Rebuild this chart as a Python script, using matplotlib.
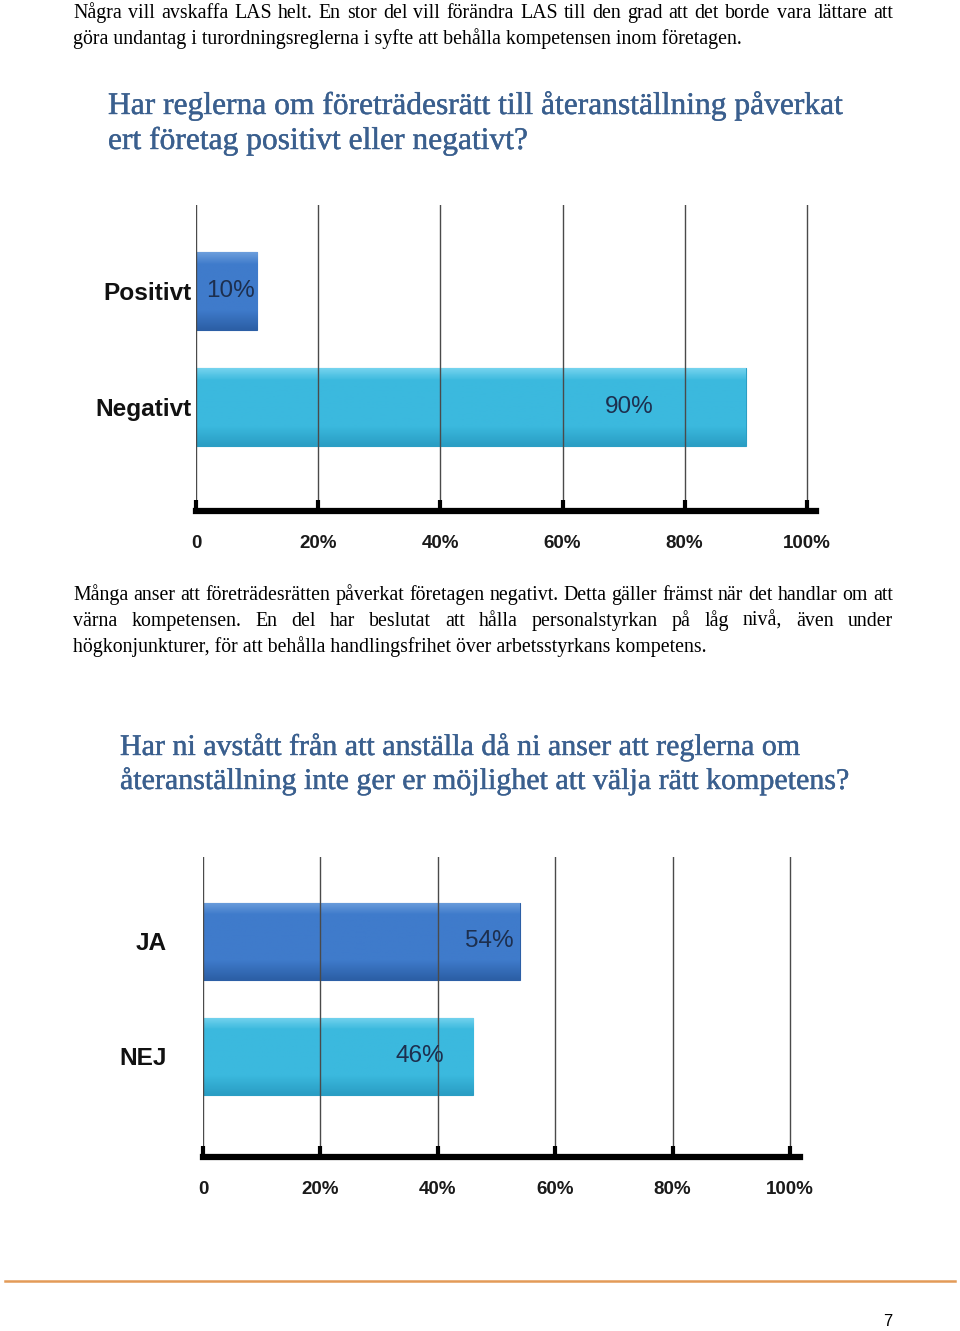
"""
Page 7 of the LAS survey report: two horizontal bar charts with body text.
Rebuilt in matplotlib at 960x1331 px.
"""

import matplotlib

matplotlib.use("Agg")
import matplotlib.pyplot as plt
import matplotlib.patheffects as pe
import numpy as np
from matplotlib.colors import LinearSegmentedColormap
from matplotlib.lines import Line2D

W, H = 960, 1331

# --- data -------------------------------------------------------------
q1_title = [
    "Har reglerna om företrädesrätt till återanställning påverkat",
    "ert företag positivt eller negativt?",
]
q1_categories = ["Positivt", "Negativt"]
q1_values = [10, 90]

q2_title = [
    "Har ni avstått från att anställa då ni anser att reglerna om",
    "återanställning inte ger er möjlighet att välja rätt kompetens?",
]
q2_categories = ["JA", "NEJ"]
q2_values = [54, 46]

tick_values = [0, 20, 40, 60, 80, 100]
tick_labels = ["0", "20%", "40%", "60%", "80%", "100%"]

para1 = [
    "Några vill avskaffa LAS helt. En stor del vill förändra LAS till den grad att det borde vara lättare att",
    "göra undantag i turordningsreglerna i syfte att behålla kompetensen inom företagen.",
]
para2 = [
    "Många anser att företrädesrätten påverkat företagen negativt. Detta gäller främst när det handlar om att",
    "värna kompetensen. En del har beslutat att hålla personalstyrkan på låg nivå, även under",
    "högkonjunkturer, för att behålla handlingsfrihet över arbetsstyrkans kompetens.",
]
page_number = "7"

# --- styling ----------------------------------------------------------
SERIF = "Liberation Serif"
SANS = "Liberation Sans"
TITLE_COLOR = "#3a5f8e"
TITLE_FX = [pe.withStroke(linewidth=0.3, foreground=TITLE_COLOR)]
BAR_SHADES = [
    ("#2c5fa6", "#3f7bcb", "#6b9ddc"),  # dark blue
    ("#2a9ec4", "#3bb9de", "#74d3ee"),  # cyan
]

fig = plt.figure(figsize=(W / 100, H / 100), dpi=100)
renderer = fig.canvas.get_renderer()


def fy(y):
    return 1 - y / H


def text_width(s, **kw):
    t = fig.text(0, 0, s, **kw)
    w = t.get_window_extent(renderer).width
    t.remove()
    return w


def fit_size(s, target_px, **kw):
    return 10 * target_px / text_width(s, fontsize=10, **kw)


def put_line(s, x0, y, size, x1=None, **kw):
    # y is the baseline in page pixels
    if x1 is None:
        fig.text(x0 / W, fy(y), s, fontsize=size, ha="left", va="baseline", **kw)
        return
    # justified line: spread the words between x0 and x1
    words = s.split()
    widths = [text_width(w, fontsize=size, **kw) for w in words]
    gap = (x1 - x0 - sum(widths)) / (len(words) - 1)
    x = x0
    for word, w in zip(words, widths):
        fig.text(x / W, fy(y), word, fontsize=size, ha="left", va="baseline", **kw)
        x += w + gap


def shade_bar(ax, bar, shades):
    x0, y0 = bar.get_x(), bar.get_y()
    w, h = bar.get_width(), bar.get_height()
    dark, base, light = shades
    cmap = LinearSegmentedColormap.from_list(
        "bar", [(0, dark), (0.25, base), (0.85, base), (1, light)]
    )
    grad = np.linspace(0, 1, 64).reshape(-1, 1)
    im = ax.imshow(grad, extent=(x0, x0 + w, y0, y0 + h), origin="lower",
                   cmap=cmap, aspect="auto", zorder=1.2)
    im.set_clip_path(bar)


def bar_chart(rect_px, xmax, ylim, categories, values, label_offsets, cat_pad):
    left, top, right, bottom = rect_px
    ax = fig.add_axes([left / W, fy(bottom), (right - left) / W, (bottom - top) / H])
    pos = np.arange(len(categories))[::-1]
    bars = ax.barh(pos, values, height=0.67, color=[s[1] for s in BAR_SHADES],
                   edgecolor=[s[0] for s in BAR_SHADES], linewidth=0.8, zorder=1)
    for bar, shades in zip(bars, BAR_SHADES):
        shade_bar(ax, bar, shades)
    ax.set_xlim(0, xmax)
    ax.set_ylim(*ylim)

    for p, v, off in zip(pos, values, label_offsets):
        ax.annotate(f"{v}%", xy=(v, p), xytext=(off, 0), textcoords="offset pixels",
                    ha="center", va="center", fontsize=17.5, family=SANS,
                    color="#1d2f4e", zorder=4)

    ax.set_xticks(tick_values)
    ax.set_xticklabels(tick_labels, fontsize=13.5, fontweight="bold", family=SANS,
                       color="#1a1a1a")
    ax.tick_params(axis="x", direction="in", length=8, width=3, pad=17, color="black")
    ax.set_yticks(pos)
    ax.set_yticklabels(categories, fontsize=17.6, fontweight="bold", family=SANS,
                       color="#111111")
    ax.tick_params(axis="y", length=0, pad=cat_pad)

    ax.grid(axis="x", color="#4a4a4a", linewidth=1.0)
    ax.set_axisbelow(False)
    for side in ("top", "right", "left"):
        ax.spines[side].set_visible(False)
    ax.spines["bottom"].set_linewidth(4.5)
    ax.spines["bottom"].set_color("black")
    return ax


# --- body text ----------------------------------------------------------
body_size = fit_size(para1[1], 669, family=SERIF)
put_line(para1[0], 73, 18, body_size, x1=893, family=SERIF, color="black")
put_line(para1[1], 73, 44, body_size, family=SERIF, color="black")
put_line(para2[0], 73, 600, body_size, x1=893, family=SERIF, color="black")
put_line(para2[1], 73, 626, body_size, x1=893, family=SERIF, color="black")
put_line(para2[2], 73, 652, body_size, family=SERIF, color="black")

# --- chart 1 ------------------------------------------------------------
t1 = fit_size(q1_title[0], 737, family=SERIF)
for line, base in zip(q1_title, [114, 149]):
    put_line(line, 108, base, t1, family=SERIF, color=TITLE_COLOR, path_effects=TITLE_FX)
bar_chart((196, 205, 816, 511), 101.5, (-0.897, 1.741),
          q1_categories, q1_values, [-27, -117], 3)

# --- chart 2 ------------------------------------------------------------
t2 = fit_size(q2_title[1], 731, family=SERIF)
for line, base in zip(q2_title, [755, 789]):
    put_line(line, 120, base, t2, family=SERIF, color=TITLE_COLOR, path_effects=TITLE_FX)
bar_chart((203, 857, 800, 1157), 101.7, (-0.878, 1.731),
          q2_categories, q2_values, [-31, -53], 26)

# --- footer -------------------------------------------------------------
fig.add_artist(Line2D([5 / W, 955 / W], [fy(1281)] * 2, color="#e39b58", linewidth=1.8))
fig.text(888 / W, fy(1322), page_number, fontsize=12, family=SANS, ha="center",
         va="center", color="black")

fig.savefig("out.png", dpi=100)
